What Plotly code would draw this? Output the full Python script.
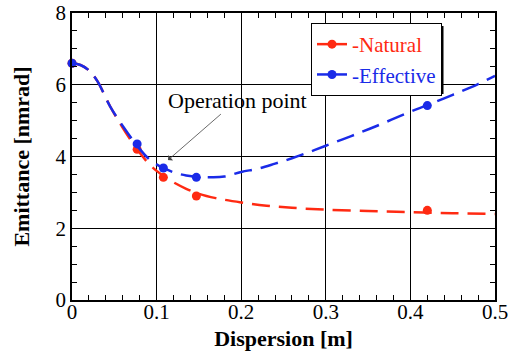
import plotly.graph_objects as go

# Measured data points
pts_x = [0.0, 0.077, 0.108, 0.147, 0.42]
natural_pts = [6.6, 4.2, 3.42, 2.9, 2.5]
effective_pts = [6.6, 4.35, 3.68, 3.42, 5.42]

# Fitted curves
nat_curve_x = [0, 0.01, 0.02, 0.03, 0.045, 0.06, 0.077, 0.09, 0.1, 0.11, 0.12, 0.135, 0.15, 0.17, 0.2, 0.23, 0.26, 0.3, 0.35, 0.4, 0.45, 0.5]
nat_curve_y = [6.6, 6.55, 6.4, 6.1, 5.4, 4.8, 4.2, 3.82, 3.6, 3.43, 3.28, 3.1, 2.96, 2.84, 2.72, 2.63, 2.57, 2.52, 2.48, 2.45, 2.42, 2.4]
eff_curve_x = [0, 0.01, 0.02, 0.03, 0.045, 0.06, 0.077, 0.09, 0.1, 0.108, 0.12, 0.135, 0.15, 0.165, 0.18, 0.2, 0.22, 0.24, 0.26, 0.28, 0.3, 0.33, 0.36, 0.4, 0.42, 0.45, 0.48, 0.5]
eff_curve_y = [6.6, 6.55, 6.4, 6.1, 5.4, 4.85, 4.3, 3.95, 3.78, 3.68, 3.56, 3.47, 3.43, 3.42, 3.44, 3.57, 3.66, 3.8, 3.95, 4.12, 4.3, 4.57, 4.85, 5.25, 5.43, 5.72, 6.02, 6.25]
x_ticks = [0, 0.1, 0.2, 0.3, 0.4, 0.5]
x_tick_labels = ["0", "0.1", "0.2", "0.3", "0.4", "0.5"]

RED = "#ff2a12"
BLUE = "#1a2be8"
FONT = "Liberation Serif, Times New Roman, Times, serif"
DASH = "18px,9px"

fig = go.Figure()
for name, cx, cy, py, col in [("Natural", nat_curve_x, nat_curve_y, natural_pts, RED),
                              ("Effective", eff_curve_x, eff_curve_y, effective_pts, BLUE)]:
    fig.add_trace(go.Scatter(x=cx, y=cy, mode="lines", line=dict(color=col, width=2.5, dash=DASH, shape="spline"),
                             showlegend=False, hoverinfo="skip"))
    fig.add_trace(go.Scatter(x=pts_x, y=py, mode="markers", marker=dict(color=col, size=9),
                             showlegend=False, cliponaxis=False))
    fig.add_trace(go.Scatter(x=[None], y=[None], mode="lines+markers",
                             name=f"<span style='color:{col}'>-{name}</span>",
                             line=dict(color=col, width=2.5), marker=dict(color=col, size=9)))

axis_common = dict(showline=True, linecolor="black", linewidth=1.5, mirror="ticks",
                   ticks="inside", ticklen=6, tickcolor="black", showgrid=True, gridcolor="black",
                   gridwidth=1, zeroline=False, automargin=False, ticklabeloverflow="allow",
                   tickfont=dict(family=FONT, size=21, color="black"))

fig.update_xaxes(range=[0, 0.5], tickmode="array", tickvals=x_ticks, ticktext=x_tick_labels,
                 ticklabelstandoff=-8,
                 minor=dict(dtick=0.02, ticks="inside", ticklen=5, tickcolor="black", showgrid=False),
                 title=dict(text="<b>Dispersion [m]</b>", font=dict(family=FONT, size=22, color="black"), standoff=8),
                 **axis_common)
fig.update_yaxes(range=[0, 8], dtick=2, ticklabelstandoff=0,
                 minor=dict(dtick=0.5, ticks="inside", ticklen=5, tickcolor="black", showgrid=False),
                 title=dict(text="<b>Emittance [nmrad]</b>", font=dict(family=FONT, size=22, color="black"), standoff=20),
                 **axis_common)

fig.add_annotation(x=0.1135, y=3.9, xref="x", yref="y", text="Operation point", showarrow=True,
                   ax=69, ay=-60, arrowhead=1, arrowsize=1.5, arrowwidth=0.8, arrowcolor="#444",
                   font=dict(family=FONT, size=22, color="black"))

# legend shadow
fig.add_shape(type="rect", xref="paper", yref="paper", x0=(314 - 72) / 423, x1=(443.5 - 72) / 423,
              y0=(300 - 94) / 287, y1=(300 - 26) / 287, fillcolor="black", line=dict(width=0), layer="above")

fig.update_layout(
    width=508, height=356, margin=dict(l=72, r=13, t=13, b=56),
    plot_bgcolor="white", paper_bgcolor="white",
    legend=dict(x=(311 - 72) / 423, y=(300 - 23) / 287, xanchor="left", yanchor="top",
                bgcolor="white", bordercolor="black", borderwidth=1,
                font=dict(family=FONT, size=21), itemwidth=30, tracegroupgap=0),
    font=dict(family=FONT),
)
fig.write_html("out.html", config={"displayModeBar": False},
               post_script="document.body.style.margin='0';document.body.style.overflow='hidden';")
